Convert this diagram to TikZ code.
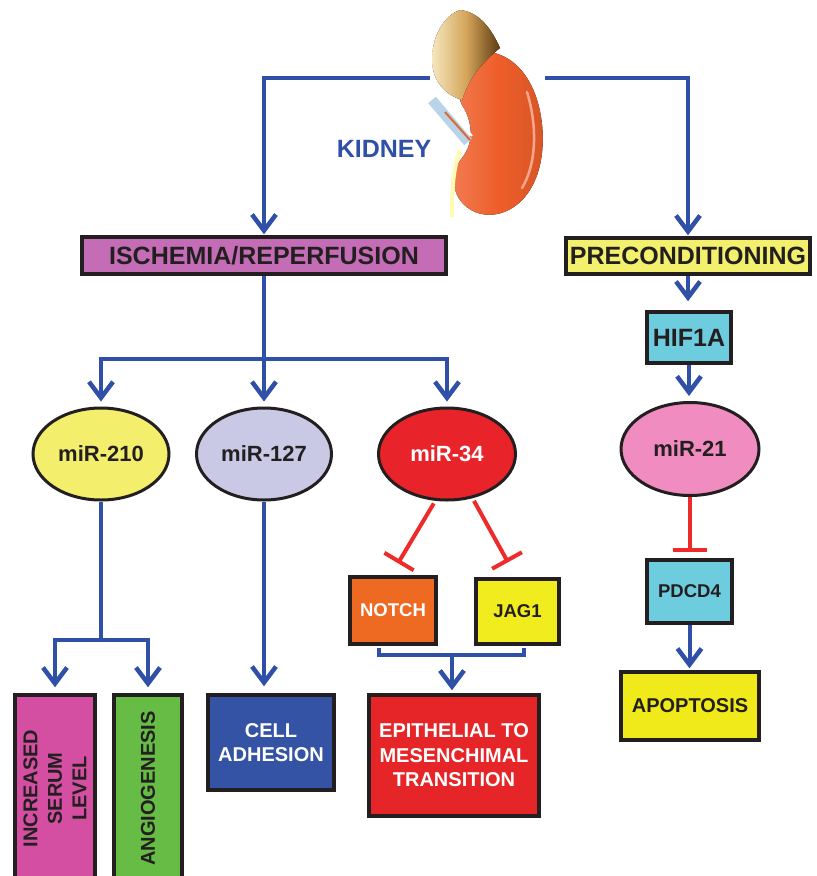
\documentclass[tikz,border=0pt]{standalone}
\usepackage{fontspec}
\setmainfont{Liberation Sans}
\usetikzlibrary{arrows.meta,shapes.geometric}
\definecolor{bl}{HTML}{3050A8}
\definecolor{rd}{HTML}{EE2A2A}
\definecolor{ink}{HTML}{231F20}
\definecolor{cIsch}{HTML}{C46DB6}
\definecolor{cPrec}{HTML}{F2F06C}
\definecolor{cM210}{HTML}{F3EE6C}
\definecolor{cM127}{HTML}{C9C9E6}
\definecolor{cM34}{HTML}{E8242A}
\definecolor{cNotch}{HTML}{EE6A22}
\definecolor{cJag}{HTML}{F0EC1E}
\definecolor{cInc}{HTML}{D44FA2}
\definecolor{cAng}{HTML}{66BC44}
\definecolor{cCell}{HTML}{3553A5}
\definecolor{cEmt}{HTML}{E52528}
\definecolor{cCyan}{HTML}{6DCCDD}
\definecolor{cM21}{HTML}{F08CBF}
\definecolor{cApop}{HTML}{F0EA1A}
\definecolor{cKid}{HTML}{EE5E2A}
\definecolor{cAdrL}{HTML}{F6E7BE}
\definecolor{cAdrM}{HTML}{D4A55A}
\definecolor{cAdrR}{HTML}{5E3A12}
\definecolor{cVes}{HTML}{B9D3E8}
\tikzset{
  fbox/.style={draw=ink, line width=3.5pt, inner sep=0pt, align=center, font=\bfseries},
  mir/.style={ellipse, draw=ink, line width=3pt, inner sep=0pt, font=\fontsize{22}{26}\selectfont\bfseries},
  link/.style={draw=bl, line width=4pt},
  flow/.style={draw=bl, line width=4pt, -{Straight Barb[length=16pt,width=24pt,line width=4.5pt]}},
  inhib/.style={draw=rd, line width=4pt, -{Bar[width=34pt]}},
  big/.style={font=\fontsize{25}{30}\selectfont\bfseries},
  mid/.style={font=\fontsize{20}{24.5}\selectfont\bfseries},
  small/.style={font=\fontsize{18.5}{22}\selectfont\bfseries}
}
\begin{document}
\begin{tikzpicture}[x=1pt,y=-1pt]
\useasboundingbox (0,0) rectangle (817,876);
% kidney picture
\node (kidney) [minimum width=115pt, minimum height=207pt, inner sep=0pt] at (487.5,113.5) {};
\fill[left color=cKid!80!white, right color=cKid!90!black, middle color=cKid]
  (490,52) .. controls (535,60) and (548,120) .. (541,160)
  .. controls (533,205) and (500,222) .. (475,212)
  .. controls (452,202) and (448,175) .. (462,158)
  .. controls (475,142) and (472,120) .. (462,105)
  .. controls (452,85) and (465,55) .. (490,52);
\draw[color=cKid!55!white, line width=2.5pt, line cap=round] (527,92) .. controls (538,128) and (536,165) .. (522,188);
\draw[color=cVes, line width=10pt] (432,100) -- (468,142);
\draw[color=white, line width=2pt] (437,94) -- (472,136);
\draw[color=cKid!60!brown, line width=2pt] (445,112) -- (470,140);
\draw[color=yellow!30!white, line width=4pt] (460,150) .. controls (452,172) and (452,195) .. (452,217);
\fill[left color=cAdrL, right color=cAdrR, middle color=cAdrM]
  (460,10) .. controls (480,12) and (492,30) .. (500,48)
  .. controls (485,60) and (470,75) .. (462,100)
  .. controls (445,95) and (432,80) .. (432,60)
  .. controls (432,35) and (445,15) .. (460,10);
\coordinate (kl) at (430,78);
\coordinate (kr) at (545,78);
\node (kidtext) [big, text=bl] at (384,149) {KIDNEY};
% boxes
\node (isch) [fbox, big, fill=cIsch, text=ink, minimum width=364pt, minimum height=37pt] at (264,255.5) {ISCHEMIA/REPERFUSION};
\node (prec) [fbox, big, fill=cPrec, text=ink, minimum width=244pt, minimum height=36pt] at (688,256) {PRECONDITIONING};
\node (m210) [mir, fill=cM210, text=ink, minimum width=136pt, minimum height=92pt] at (101,454) {miR-210};
\node (m127) [mir, fill=cM127, text=ink, minimum width=135pt, minimum height=92pt] at (264,454) {miR-127};
\node (m34) [mir, fill=cM34, text=white, minimum width=137pt, minimum height=92pt] at (447,454) {miR-34};
\node (hif) [fbox, big, fill=cCyan, text=ink, minimum width=84pt, minimum height=51pt] at (689,337.5) {HIF1A};
\node (m21) [mir, fill=cM21, text=ink, minimum width=138pt, minimum height=93pt] at (690,449) {miR-21};
\node (notch) [fbox, small, fill=cNotch, text=white, minimum width=86pt, minimum height=67pt] at (393,610.5) {NOTCH};
\node (jag) [fbox, small, fill=cJag, text=ink, minimum width=83pt, minimum height=65pt] at (517.5,611.5) {JAG1};
\node (pdcd) [fbox, small, fill=cCyan, text=ink, minimum width=85pt, minimum height=63pt] at (689.5,591.5) {PDCD4};
\node (apop) [fbox, mid, fill=cApop, text=ink, minimum width=138pt, minimum height=68pt] at (690,706) {APOPTOSIS};
\node (cell) [fbox, mid, fill=cCell, text=white, minimum width=126pt, minimum height=95pt] at (271,742.5) {CELL\\ADHESION};
\node (emt) [fbox, mid, fill=cEmt, text=white, minimum width=170pt, minimum height=121pt] at (454,755.5) {EPITHELIAL TO\\MESENCHIMAL\\TRANSITION};
\node (inc) [fbox, mid, fill=cInc, text=ink, minimum width=80pt, minimum height=187pt] at (55,788.5) {};
\node (inctext) [mid, text=ink, rotate=90, align=center] at (inc.center) {INCREASED\\SERUM\\LEVEL};
\node (ang) [fbox, mid, fill=cAng, text=ink, minimum width=68pt, minimum height=187pt] at (148,788.5) {};
\node (angtext) [mid, text=ink, rotate=90] at (ang.center) {ANGIOGENESIS};
% connectors
\draw[flow, shorten >=1pt] (kl) -| (isch.north);
\draw[flow, shorten >=1pt] (kr) -| (prec.north);
\coordinate (j1) at (264,359);
\draw[link] (isch.south) -- (j1);
\draw[flow, shorten >=5pt] (j1) -| (m210.north);
\draw[flow, shorten >=5pt] (j1) -- (m127.north);
\draw[flow, shorten >=5pt] (j1) -| (m34.north);
\coordinate (j2) at (101,640);
\draw[link] (m210.south) -- (j2);
\draw[flow, shorten >=6pt] (j2) -| (inc.north);
\draw[flow, shorten >=6pt] (j2) -| (ang.north);
\draw[flow, shorten >=7pt] (m127.south) -- (m127.south |- cell.north);
\draw[inhib, shorten <=3pt] (m34.-104) -- ([xshift=5pt,yshift=12pt]notch.north);
\draw[inhib, shorten <=3pt] (m34.-60) -- ([xshift=-9.5pt,yshift=15pt]jag.north);
\coordinate (b1) at (379,648);
\coordinate (b2) at (524,648);
\coordinate (bj) at (452,655);
\draw[link] (b1) -- (b1 |- bj) -- (b2 |- bj) -- (b2);
\draw[flow, shorten >=3pt] (bj) -- (bj |- emt.north);
\draw[flow, shorten >=9pt] (prec.south) -- (prec.south |- hif.north);
\draw[flow, shorten >=5pt] (hif.south) -- (hif.south |- m21.north);
\draw[inhib, shorten >=6pt] (m21.south) -- (m21.south |- pdcd.north);
\draw[flow, shorten >=2pt] (pdcd.south) -- (pdcd.south |- apop.north);
\end{tikzpicture}
\end{document}
